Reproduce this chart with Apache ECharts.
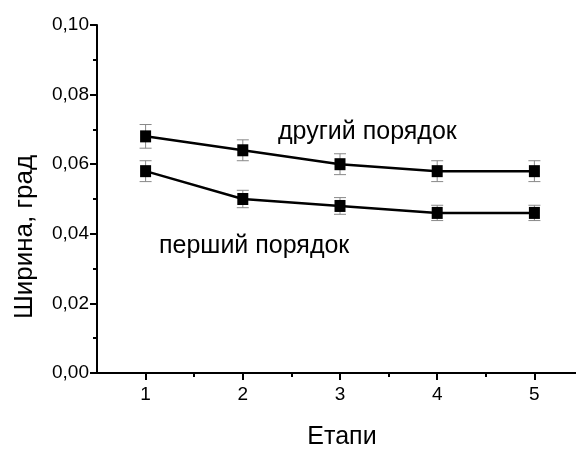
<!DOCTYPE html>
<html lang="uk">
<head>
    <meta charset="UTF-8"/>
    <title>Ширина</title>
    <style>
        * { margin: 0; padding: 0; }
        body { background: #fff; }
        #chart { width: 576px; height: 451px; }
    </style>
    <script src="https://cdn.jsdelivr.net/npm/echarts@6/dist/echarts.min.js"></script>
</head>
<body>
<div id="chart"></div>
<script>
    const stages = [1, 2, 3, 4, 5];
    const second = [0.068, 0.064, 0.060, 0.058, 0.058];
    const secondErr = [0.0034, 0.0030, 0.0030, 0.0030, 0.0030];
    const first = [0.058, 0.050, 0.048, 0.046, 0.046];
    const firstErr = [0.0030, 0.0025, 0.0024, 0.0022, 0.0022];
    const yTicks = [0, 0.02, 0.04, 0.06, 0.08, 0.1];
    const font = 'Liberation Sans, Arial, sans-serif';

    const chart = echarts.init(document.getElementById('chart'));

    function pts(vals) {
        return stages.map((x, i) => [x, vals[i]]);
    }
    function errs(vals, e) {
        return stages.map((x, i) => [x, vals[i] - e[i], vals[i] + e[i]]);
    }

    // error bars, grey with caps
    function errBar(params, api) {
        const lo = api.coord([api.value(0), api.value(1)]);
        const hi = api.coord([api.value(0), api.value(2)]);
        const w = 6;
        const st = { stroke: '#888', lineWidth: 1 };
        return {
            type: 'group',
            children: [
                { type: 'line', shape: { x1: lo[0], y1: lo[1], x2: hi[0], y2: hi[1] }, style: st },
                { type: 'line', shape: { x1: lo[0] - w, y1: lo[1], x2: lo[0] + w, y2: lo[1] }, style: st },
                { type: 'line', shape: { x1: hi[0] - w, y1: hi[1], x2: hi[0] + w, y2: hi[1] }, style: st }
            ]
        };
    }

    const lineStyle = { color: '#000', width: 2.5 };

    chart.setOption({
        animation: false,
        grid: { left: 97, top: 25, width: 486, bottom: 78, outerBoundsMode: 'none', containLabel: false },
        xAxis: [{
            type: 'value',
            min: 0.5,
            max: 5.5,
            position: 'bottom',
            splitLine: { show: false },
            axisLine: { lineStyle: { color: '#000', width: 2 } },
            axisTick: { customValues: stages, length: 7, lineStyle: { color: '#000', width: 2 } },
            axisLabel: { customValues: stages, color: '#000', fontSize: 19, fontFamily: font, margin: 12 }
        }, {
            type: 'value',
            min: 0.5,
            max: 5.5,
            position: 'bottom',
            splitLine: { show: false },
            axisLine: { show: false },
            axisTick: { customValues: [1.5, 2.5, 3.5, 4.5], length: 4, lineStyle: { color: '#000', width: 2 } },
            axisLabel: { show: false }
        }],
        yAxis: {
            type: 'value',
            min: 0,
            max: 0.1,
            interval: 0.02,
            splitLine: { show: false },
            axisLine: { show: true, lineStyle: { color: '#000', width: 2 } },
            axisTick: { show: true, length: 7, lineStyle: { color: '#000', width: 2 } },
            minorTick: { show: true, splitNumber: 2, length: 4, lineStyle: { color: '#000', width: 2 } },
            axisLabel: {
                color: '#000', fontSize: 19, fontFamily: font, margin: 8,
                formatter: v => yTicks.includes(+v.toFixed(2)) ? v.toFixed(2).replace('.', ',') : ''
            }
        },
        graphic: [
            { type: 'text', x: 278, y: 132, style: { text: 'другий порядок', font: '25px ' + font, fill: '#000', verticalAlign: 'middle' } },
            { type: 'text', x: 159, y: 246, style: { text: 'перший порядок', font: '25px ' + font, fill: '#000', verticalAlign: 'middle' } },
            { type: 'text', x: 342, y: 437, style: { text: 'Етапи', font: '25px ' + font, fill: '#000', align: 'center', verticalAlign: 'middle' } },
            { type: 'text', x: 25, y: 237, rotation: Math.PI / 2, style: { text: 'Ширина, град', font: '26px ' + font, fill: '#000', align: 'center', verticalAlign: 'middle' } }
        ],
        series: [
            { type: 'custom', renderItem: errBar, data: errs(second, secondErr), z: 1 },
            { type: 'custom', renderItem: errBar, data: errs(first, firstErr), z: 1 },
            {
                name: 'другий порядок', type: 'line', data: pts(second), z: 2,
                symbol: 'rect', symbolSize: [11, 12], itemStyle: { color: '#000' }, lineStyle
            },
            {
                name: 'перший порядок', type: 'line', data: pts(first), z: 2,
                symbol: 'rect', symbolSize: [11, 12], itemStyle: { color: '#000' }, lineStyle
            }
        ]
    });
</script>
</body>
</html>
